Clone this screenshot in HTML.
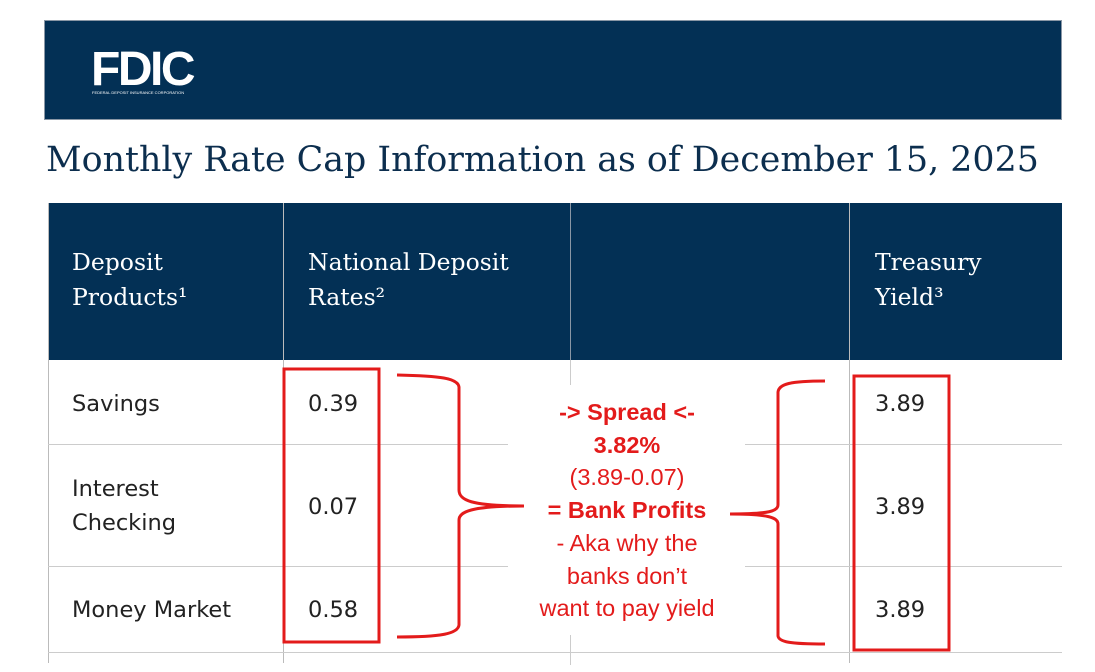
<!DOCTYPE html>
<html><head><meta charset="utf-8"><style>
body{margin:0;width:1095px;height:672px;background:#fff;position:relative;overflow:hidden;font-family:"Liberation Sans",sans-serif}
.a{position:absolute;white-space:nowrap}
.ser{font-family:"DejaVu Serif",serif}
.hd{color:#fff;font-size:23.5px;line-height:35px}
.bd{color:#222;font-size:22.5px;line-height:34px;font-family:"DejaVu Sans",sans-serif}
.rt{color:#e31b1b;font-size:23.5px;line-height:32.7px;text-align:center;width:300px;left:477px}
</style></head><body>
<div class="a" style="left:44px;top:20px;width:1018px;height:100px;background:#033055;border:1px solid #8a97a6;box-sizing:border-box"></div>
<div class="a" style="left:91px;top:43px;color:#fff;font-weight:bold;font-size:48px;letter-spacing:-2.5px;line-height:54px">FDIC</div>
<div class="a" style="left:92px;top:90px;color:#fff;font-size:4px">FEDERAL DEPOSIT INSURANCE CORPORATION</div>
<div class="a ser" style="left:46px;top:138px;color:#0c2e4e;font-size:34.8px;line-height:44px">Monthly Rate Cap Information as of December 15, 2025</div>
<div class="a" style="left:48px;top:203px;width:1014px;height:157px;background:#033055"></div>
<div class="a" style="left:48px;top:203px;width:1px;height:460px;background:#bbb"></div>
<div class="a" style="left:283px;top:203px;width:1px;height:460px;background:#bbb"></div>
<div class="a" style="left:570px;top:203px;width:1px;height:157px;background:#8a97a6"></div>
<div class="a" style="left:570px;top:360px;width:1px;height:25px;background:#ccc"></div>
<div class="a" style="left:570px;top:635px;width:1px;height:30px;background:#ccc"></div>
<div class="a" style="left:849px;top:203px;width:1px;height:460px;background:#bbb"></div>
<div class="a" style="left:48px;top:444px;width:460px;height:1px;background:#ccc"></div>
<div class="a" style="left:745px;top:444px;width:317px;height:1px;background:#ccc"></div>
<div class="a" style="left:48px;top:566px;width:460px;height:1px;background:#ccc"></div>
<div class="a" style="left:745px;top:566px;width:317px;height:1px;background:#ccc"></div>
<div class="a" style="left:48px;top:652px;width:1014px;height:1px;background:#ccc"></div>
<div class="a ser hd" style="left:72px;top:245px">Deposit<br>Products¹</div>
<div class="a ser hd" style="left:308px;top:245px">National Deposit<br>Rates²</div>
<div class="a ser hd" style="left:875px;top:245px">Treasury<br>Yield³</div>
<div class="a bd" style="left:72px;top:387px">Savings</div>
<div class="a bd" style="left:72px;top:472px">Interest<br>Checking</div>
<div class="a bd" style="left:72px;top:593px">Money Market</div>
<div class="a bd" style="left:308px;top:387px">0.39</div>
<div class="a bd" style="left:308px;top:490px">0.07</div>
<div class="a bd" style="left:308px;top:593px">0.58</div>
<div class="a bd" style="left:875px;top:387px">3.89</div>
<div class="a bd" style="left:875px;top:490px">3.89</div>
<div class="a bd" style="left:875px;top:593px">3.89</div>
<svg class="a" style="left:0;top:0" width="1095" height="672">
<g fill="none" stroke="#e31b1b" stroke-width="3">
<rect x="284" y="369" width="95" height="273"/>
<rect x="854" y="376" width="95" height="274"/>
<path d="M397,375 C440,376 458,378 459,387 L459,490 C459,500 470,506 524,506 M459,520 C459,512 470,506 524,506 M459,520 L459,625 C458,634 440,637 397,637"/>
<path d="M825,381 C790,381 779,384 778,392 L778,505 C778,511 770,514 730,514 M778,524 C778,518 770,514 730,514 M778,524 L778,636 C779,642 790,644 825,644"/>
</g></svg>
<div class="a rt" style="top:396px"><b>-&gt; Spread &lt;-</b><br><b>3.82%</b><br>(3.89-0.07)<br><b>= Bank Profits</b><br>- Aka why the<br>banks don’t<br>want to pay yield</div>
</body></html>
